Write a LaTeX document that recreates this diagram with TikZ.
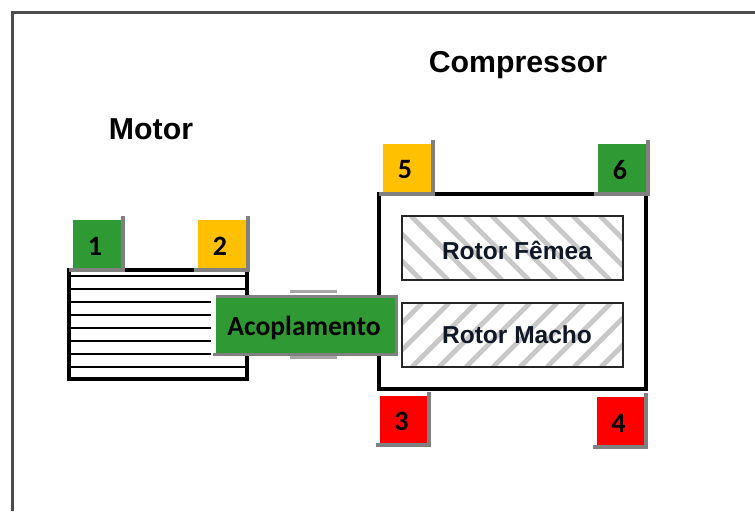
\documentclass[tikz,border=0pt]{standalone}
\usepackage{fontspec}
\setmainfont{Liberation Sans}
\newfontfamily\carlito{Carlito}
\definecolor{gr}{HTML}{2F9A33}
\definecolor{ye}{HTML}{FFC000}
\definecolor{re}{HTML}{FF0000}
\definecolor{shd}{HTML}{808080}
\definecolor{hatch}{HTML}{C8C8C8}
\definecolor{tx}{HTML}{101828}
\tikzset{
  title/.style={font=\bfseries\fontsize{22.7}{26}\selectfont, text=black, inner sep=0pt},
  rotorlabel/.style={font=\bfseries\fontsize{18.4}{22}\selectfont, text=tx, inner sep=0pt},
  numlabel/.style={font=\carlito\bfseries\fontsize{21}{24}\selectfont, text=black, inner sep=0pt},
  coupling/.style={font=\carlito\bfseries\fontsize{20.7}{24}\selectfont, text=black, inner sep=0pt},
  heavy/.style={draw=black, line width=2.7pt},
  rotorbox/.style={draw=black!85, line width=1.6pt},
  hatchline/.style={draw=hatch, line width=3.6pt},
}
% name, x0, y0, x1, y1, colour, number: shadow on the right and bottom
\newcommand{\pinbox}[7]{%
  \fill[shd] (#2-4,#5) rectangle (#4+3,#5+3.5);
  \fill[shd] (#4,#3-4) rectangle (#4+3.5,#5+3.5);
  \fill[#6] (#2,#3) rectangle (#4,#5);
  \node[numlabel] (#1) at ({(#2+#4)/2-2},{(#3+#5)/2+2}) {#7};
}
\begin{document}
\begin{tikzpicture}[x=0.75pt,y=-0.75pt]
\useasboundingbox (0,0) rectangle (755,511);
\fill[white] (0,0) rectangle (755,511);
% page frame
\draw[draw=black!70, line width=1.7pt] (755,12.5) -- (12.5,12.5) -- (12.5,511);
% titles
\node[title] (motor) at (151,129) {Motor};
\node[title] (compressor) at (518,65.5) {Compressor};
% motor body
\foreach \yy in {276,289,302,315,328,341,354,367}
  \draw[black, line width=2pt] (68,\yy) -- (247,\yy);
\draw[heavy] (69,270) rectangle (247,379);
% compressor body
\draw[heavy] (379,194) rectangle (646,389);
% rotors
\begin{scope}
  \clip (402,216) rectangle (623,280);
  \foreach \xx in {330,357,...,650}
    \draw[hatchline] (\xx,216) -- (\xx+64,280);
\end{scope}
\draw[rotorbox] (402,216) rectangle (623,280);
\begin{scope}
  \clip (402,303) rectangle (623,367);
  \foreach \xx in {395,422,...,720}
    \draw[hatchline] (\xx,303) -- (\xx-64,367);
\end{scope}
\draw[rotorbox] (402,303) rectangle (623,367);
\node[rotorlabel] (femea) at (517,250) {Rotor Fêmea};
\node[rotorlabel] (macho) at (517,335) {Rotor Macho};
% coupling
\fill[shd!70] (290,290) rectangle (337,292.5);
\fill[shd!70] (290,356) rectangle (337,358.5);
\fill[white] (211,293) rectangle (216,356);
\fill[shd] (213,353) rectangle (398,356);
\fill[shd] (216,295) rectangle (398,356);
\fill[gr] (216,298) rectangle (395,353);
\node[coupling] (acoplamento) at (304,327.5) {Acoplamento};
% numbered pins
\pinbox{p1}{73}{220}{121}{268}{gr}{1}
\pinbox{p2}{198}{220}{246}{268}{ye}{2}
\pinbox{p5}{383}{144}{431}{192}{ye}{5}
\pinbox{p6}{598}{144}{646}{192}{gr}{6}
\pinbox{p3}{380}{396}{427}{443}{re}{3}
\pinbox{p4}{597}{397}{644}{445}{re}{4}
\end{tikzpicture}
\end{document}
